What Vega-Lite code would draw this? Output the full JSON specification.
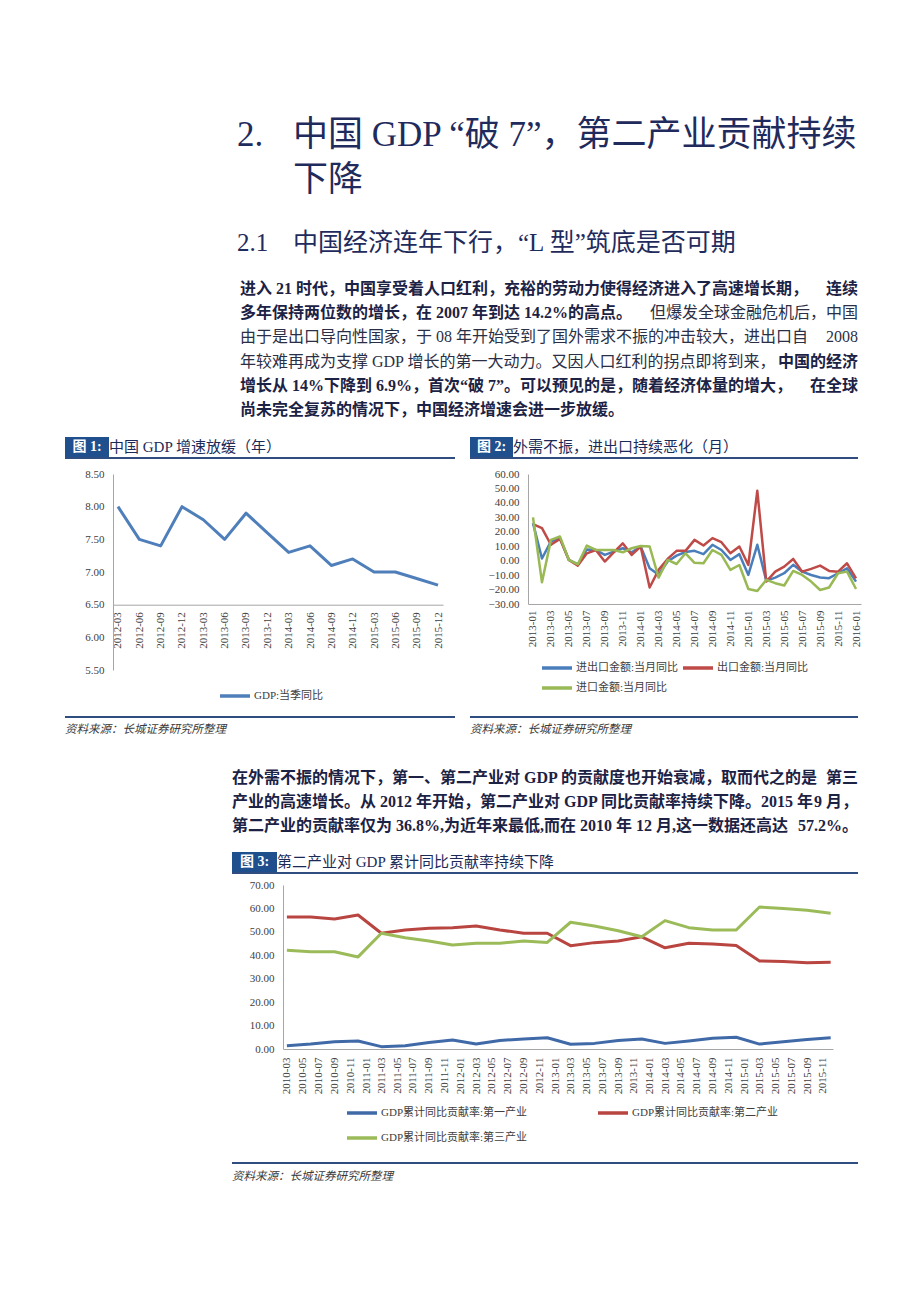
{
  "$schema": "https://vega.github.io/schema/vega-lite/v6.json",
  "background": "#ffffff",
  "padding": {"left": 65, "top": 112, "right": 0, "bottom": 0},
  "bounds": "flush",
  "spacing": 0,
  "resolve": {"scale": {"color": "independent"}, "legend": {"color": "independent"}},
  "datasets": {"none": [], "src": [{"t": "资料来源：长城证券研究所整理"}]},
  "vconcat": [
    {"hconcat": [
      {"width": 172, "height": 90, "data": {"name": "none"}, "mark": "text"},
      {"width": 56, "height": 90, "data": {"values": [{"line": 1, "text": "2."}, {"line": 2, "text": ""}]},
       "mark": {"type": "text", "align": "left", "baseline": "middle", "fontSize": 35, "color": "#1f2b5c"},
       "encoding": {"x": {"value": 0}, "y": {"field": "line", "type": "ordinal", "axis": null, "scale": {"type": "band", "paddingInner": 0, "paddingOuter": 0}}, "text": {"field": "text"}}},
      {"width": 570, "height": 90, "data": {"values": [{"line": 1, "text": "中国 GDP “破 7”，第二产业贡献持续"}, {"line": 2, "text": "下降"}]},
       "mark": {"type": "text", "align": "left", "baseline": "middle", "fontSize": 35, "color": "#1f2b5c"},
       "encoding": {"x": {"value": 0}, "y": {"field": "line", "type": "ordinal", "axis": null, "scale": {"type": "band", "paddingInner": 0, "paddingOuter": 0}}, "text": {"field": "text"}}}
    ], "bounds": "flush", "spacing": 0},
    {"width": 1, "height": 90, "data": {"name": "none"}, "mark": "text"},

    {"hconcat": [
      {"width": 172, "height": 75, "data": {"name": "none"}, "mark": "text"},
      {"width": 56, "height": 75, "data": {"values": [{"line": 1, "text": "2.1"}]},
       "mark": {"type": "text", "align": "left", "baseline": "middle", "fontSize": 25, "color": "#1f2b5c"},
       "encoding": {"x": {"value": 0}, "y": {"field": "line", "type": "ordinal", "axis": null, "bandPosition": 0.55, "scale": {"type": "band", "paddingInner": 0, "paddingOuter": 0}}, "text": {"field": "text"}}},
      {"width": 570, "height": 75, "data": {"values": [{"line": 1, "text": "中国经济连年下行，“L 型”筑底是否可期"}]},
       "mark": {"type": "text", "align": "left", "baseline": "middle", "fontSize": 25, "color": "#1f2b5c"},
       "encoding": {"x": {"value": 0}, "y": {"field": "line", "type": "ordinal", "axis": null, "bandPosition": 0.55, "scale": {"type": "band", "paddingInner": 0, "paddingOuter": 0}}, "text": {"field": "text"}}}
    ], "bounds": "flush", "spacing": 0},
    {"width": 1, "height": 75, "data": {"name": "none"}, "mark": "text"},

    {"hconcat": [
      {"width": 175, "height": 145, "data": {"name": "none"}, "mark": "text"},
      {"width": 618, "height": 145,
       "data": {"values": [
         {"line": 1, "part": "start", "emph": true, "text": "进入 21 时代，中国享受着人口红利，充裕的劳动力使得经济进入了高速增长期，"},
         {"line": 1, "part": "end", "emph": true, "text": "连续"},
         {"line": 2, "part": "start", "emph": true, "text": "多年保持两位数的增长，在 2007 年到达 14.2%的高点。"},
         {"line": 2, "part": "end", "emph": false, "text": "但爆发全球金融危机后，中国"},
         {"line": 3, "part": "start", "emph": false, "text": "由于是出口导向性国家，于 08 年开始受到了国外需求不振的冲击较大，进出口自"},
         {"line": 3, "part": "end", "emph": false, "text": "2008"},
         {"line": 4, "part": "start", "emph": false, "text": "年较难再成为支撑 GDP 增长的第一大动力。又因人口红利的拐点即将到来，"},
         {"line": 4, "part": "end", "emph": true, "text": "中国的经济"},
         {"line": 5, "part": "start", "emph": true, "text": "增长从 14%下降到 6.9%，首次“破 7”。可以预见的是，随着经济体量的增大，"},
         {"line": 5, "part": "end", "emph": true, "text": "在全球"},
         {"line": 6, "part": "start", "emph": true, "text": "尚未完全复苏的情况下，中国经济增速会进一步放缓。"}
       ]},
       "encoding": {"y": {"field": "line", "type": "ordinal", "axis": null, "scale": {"type": "band", "domain": [1, 2, 3, 4, 5, 6], "paddingInner": 0, "paddingOuter": 0}}, "text": {"field": "text"}},
       "layer": [
         {"transform": [{"filter": "datum.part == 'start' && datum.emph"}], "mark": {"type": "text", "align": "left", "baseline": "middle", "fontSize": 16, "fontWeight": "bold", "color": "#1c2244"}, "encoding": {"x": {"value": 0}}},
         {"transform": [{"filter": "datum.part == 'start' && !datum.emph"}], "mark": {"type": "text", "align": "left", "baseline": "middle", "fontSize": 16, "fontWeight": "normal", "color": "#2b2f45"}, "encoding": {"x": {"value": 0}}},
         {"transform": [{"filter": "datum.part == 'end' && datum.emph"}], "mark": {"type": "text", "align": "right", "baseline": "middle", "fontSize": 16, "fontWeight": "bold", "color": "#1c2244"}, "encoding": {"x": {"value": "width"}}},
         {"transform": [{"filter": "datum.part == 'end' && !datum.emph"}], "mark": {"type": "text", "align": "right", "baseline": "middle", "fontSize": 16, "fontWeight": "normal", "color": "#2b2f45"}, "encoding": {"x": {"value": "width"}}}
       ]}
    ], "bounds": "flush", "spacing": 0},
    {"width": 1, "height": 160, "data": {"name": "none"}, "mark": "text"},

    {"hconcat": [
      {"width": 44, "height": 20, "view": {"fill": "#1f4f8d"}, "data": {"values": [{"t": "图 1:"}]},
       "mark": {"type": "text", "fontSize": 14, "fontWeight": "bold", "color": "#ffffff"}, "encoding": {"text": {"field": "t"}}},
      {"width": 361, "height": 20, "data": {"values": [{"t": "中国 GDP 增速放缓（年）"}]},
       "mark": {"type": "text", "align": "left", "fontSize": 15, "color": "#1c2a57"}, "encoding": {"x": {"value": 0}, "text": {"field": "t"}}},
      {"width": 43, "height": 20, "view": {"fill": "#1f4f8d"}, "data": {"values": [{"t": "图 2:"}]},
       "mark": {"type": "text", "fontSize": 14, "fontWeight": "bold", "color": "#ffffff"}, "encoding": {"text": {"field": "t"}}},
      {"width": 345, "height": 20, "data": {"values": [{"t": "外需不振，进出口持续恶化（月）"}]},
       "mark": {"type": "text", "align": "left", "fontSize": 15, "color": "#1c2a57"}, "encoding": {"x": {"value": 0}, "text": {"field": "t"}}}
    ], "bounds": "flush", "spacing": 0},
    {"width": 1, "height": 20, "data": {"name": "none"}, "mark": "text"},

    {"hconcat": [
      {"width": 390, "height": 2, "view": {"fill": "#2f4d80"}, "data": {"name": "none"}, "mark": "text"},
      {"width": 15, "height": 2, "data": {"name": "none"}, "mark": "text"},
      {"width": 388, "height": 2, "view": {"fill": "#2f4d80"}, "data": {"name": "none"}, "mark": "text"}
    ], "bounds": "flush", "spacing": 0},
    {"width": 1, "height": 17, "data": {"name": "none"}, "mark": "text"},

    {"hconcat": [
      {"width": 48, "height": 196, "data": {"name": "none"}, "mark": "text"},
      {"width": 330, "height": 196,
       "data": {"values": [
         {"q": "2012-03", "s": "GDP:当季同比", "v": 8.0},
         {"q": "2012-06", "s": "GDP:当季同比", "v": 7.5},
         {"q": "2012-09", "s": "GDP:当季同比", "v": 7.4},
         {"q": "2012-12", "s": "GDP:当季同比", "v": 8.0},
         {"q": "2013-03", "s": "GDP:当季同比", "v": 7.8},
         {"q": "2013-06", "s": "GDP:当季同比", "v": 7.5},
         {"q": "2013-09", "s": "GDP:当季同比", "v": 7.9},
         {"q": "2013-12", "s": "GDP:当季同比", "v": 7.6},
         {"q": "2014-03", "s": "GDP:当季同比", "v": 7.3},
         {"q": "2014-06", "s": "GDP:当季同比", "v": 7.4},
         {"q": "2014-09", "s": "GDP:当季同比", "v": 7.1},
         {"q": "2014-12", "s": "GDP:当季同比", "v": 7.2},
         {"q": "2015-03", "s": "GDP:当季同比", "v": 7.0},
         {"q": "2015-06", "s": "GDP:当季同比", "v": 7.0},
         {"q": "2015-09", "s": "GDP:当季同比", "v": 6.9},
         {"q": "2015-12", "s": "GDP:当季同比", "v": 6.8}
       ]},
       "mark": {"type": "line", "strokeWidth": 3, "strokeJoin": "round"},
       "encoding": {
         "x": {"field": "q", "type": "ordinal", "sort": null, "scale": {"type": "point", "padding": 0.234}, "axis": {"title": null, "offset": -65.3}},
         "y": {"field": "v", "type": "quantitative", "scale": {"domain": [5.5, 8.5], "zero": false, "nice": false}, "axis": {"title": null, "values": [5.5, 6, 6.5, 7, 7.5, 8, 8.5], "format": ".2f"}},
         "color": {"field": "s", "type": "nominal", "scale": {"domain": ["GDP:当季同比"], "range": ["#4f7fba"]}, "legend": {"title": null, "legendX": 105, "legendY": 215}}
       }},
      {"width": 85, "height": 10, "data": {"name": "none"}, "mark": "text"},
      {"width": 333, "height": 130,
       "data": {"values": [
         {"m": "2013-01", "进出口金额:当月同比": 26.0, "出口金额:当月同比": 25.3, "进口金额:当月同比": 30.0},
         {"m": "2013-02", "进出口金额:当月同比": 1.5, "出口金额:当月同比": 22.5, "进口金额:当月同比": -15.0},
         {"m": "2013-03", "进出口金额:当月同比": 13.3, "出口金额:当月同比": 11.0, "进口金额:当月同比": 14.4},
         {"m": "2013-04", "进出口金额:当月同比": 15.6, "出口金额:当月同比": 15.1, "进口金额:当月同比": 16.7},
         {"m": "2013-05", "进出口金额:当月同比": 0.5, "出口金额:当月同比": 0.5, "进口金额:当月同比": 0.5},
         {"m": "2013-06", "进出口金额:当月同比": -2.5, "出口金额:当月同比": -3.4, "进口金额:当月同比": -2.5},
         {"m": "2013-07", "进出口金额:当月同比": 7.8, "出口金额:当月同比": 5.1, "进口金额:当月同比": 10.4},
         {"m": "2013-08", "进出口金额:当月同比": 7.4, "出口金额:当月同比": 7.4, "进口金额:当月同比": 7.4},
         {"m": "2013-09", "进出口金额:当月同比": 4.0, "出口金额:当月同比": -0.6, "进口金额:当月同比": 7.4},
         {"m": "2013-10", "进出口金额:当月同比": 6.3, "出口金额:当月同比": 5.8, "进口金额:当月同比": 7.4},
         {"m": "2013-11", "进出口金额:当月同比": 8.6, "出口金额:当月同比": 12.0, "进口金额:当月同比": 5.8},
         {"m": "2013-12", "进出口金额:当月同比": 5.8, "出口金额:当月同比": 4.0, "进口金额:当月同比": 8.6},
         {"m": "2014-01", "进出口金额:当月同比": 9.8, "出口金额:当月同比": 9.8, "进口金额:当月同比": 10.2},
         {"m": "2014-02", "进出口金额:当月同比": -5.2, "出口金额:当月同比": -18.6, "进口金额:当月同比": 9.8},
         {"m": "2014-03", "进出口金额:当月同比": -9.8, "出口金额:当月同比": -6.4, "进口金额:当月同比": -11.7},
         {"m": "2014-04", "进出口金额:当月同比": -0.6, "出口金额:当月同比": 1.2, "进口金额:当月同比": 0.5},
         {"m": "2014-05", "进出口金额:当月同比": 3.5, "出口金额:当月同比": 6.8, "进口金额:当月同比": -2.3},
         {"m": "2014-06", "进出口金额:当月同比": 6.0, "出口金额:当月同比": 6.8, "进口金额:当月同比": 5.1},
         {"m": "2014-07", "进出口金额:当月同比": 6.8, "出口金额:当月同比": 14.4, "进口金额:当月同比": -1.5},
         {"m": "2014-08", "进出口金额:当月同比": 4.5, "出口金额:当月同比": 10.5, "进口金额:当月同比": -1.8},
         {"m": "2014-09", "进出口金额:当月同比": 11.0, "出口金额:当月同比": 15.6, "进口金额:当月同比": 7.4},
         {"m": "2014-10", "进出口金额:当月同比": 7.4, "出口金额:当月同比": 12.8, "进口金额:当月同比": 4.0},
         {"m": "2014-11", "进出口金额:当月同比": 0.5, "出口金额:当月同比": 5.1, "进口金额:当月同比": -6.4},
         {"m": "2014-12", "进出口金额:当月同比": 4.5, "出口金额:当月同比": 9.8, "进口金额:当月同比": -3.0},
         {"m": "2015-01", "进出口金额:当月同比": -9.9, "出口金额:当月同比": -3.0, "进口金额:当月同比": -19.6},
         {"m": "2015-02", "进出口金额:当月同比": 11.0, "出口金额:当月同比": 48.4, "进口金额:当月同比": -21.0},
         {"m": "2015-03", "进出口金额:当月同比": -14.0, "出口金额:当月同比": -14.5, "进口金额:当月同比": -13.3},
         {"m": "2015-04", "进出口金额:当月同比": -11.7, "出口金额:当月同比": -7.6, "进口金额:当月同比": -15.6},
         {"m": "2015-05", "进出口金额:当月同比": -8.7, "出口金额:当月同比": -4.1, "进口金额:当月同比": -17.2},
         {"m": "2015-06", "进出口金额:当月同比": -2.9, "出口金额:当月同比": 1.2, "进口金额:当月同比": -7.1},
         {"m": "2015-07", "进出口金额:当月同比": -7.6, "出口金额:当月同比": -7.6, "进口金额:当月同比": -9.9},
         {"m": "2015-08", "进出口金额:当月同比": -9.9, "出口金额:当月同比": -5.7, "进口金额:当月同比": -14.5},
         {"m": "2015-09", "进出口金额:当月同比": -11.7, "出口金额:当月同比": -3.4, "进口金额:当月同比": -20.3},
         {"m": "2015-10", "进出口金额:当月同比": -12.1, "出口金额:当月同比": -7.1, "进口金额:当月同比": -18.6},
         {"m": "2015-11", "进出口金额:当月同比": -8.7, "出口金额:当月同比": -7.6, "进口金额:当月同比": -8.7},
         {"m": "2015-12", "进出口金额:当月同比": -5.3, "出口金额:当月同比": -1.8, "进口金额:当月同比": -7.6},
         {"m": "2016-01", "进出口金额:当月同比": -14.5, "出口金额:当月同比": -12.2, "进口金额:当月同比": -19.6}
       ]},
       "transform": [{"fold": ["进出口金额:当月同比", "出口金额:当月同比", "进口金额:当月同比"], "as": ["s", "v"]}],
       "mark": {"type": "line", "strokeWidth": 2.5, "strokeJoin": "round"},
       "encoding": {
         "x": {"field": "m", "type": "ordinal", "sort": null, "scale": {"type": "point", "padding": 0.557},
               "axis": {"title": null, "labelPadding": 6, "values": ["2013-01", "2013-03", "2013-05", "2013-07", "2013-09", "2013-11", "2014-01", "2014-03", "2014-05", "2014-07", "2014-09", "2014-11", "2015-01", "2015-03", "2015-05", "2015-07", "2015-09", "2015-11", "2016-01"]}},
         "y": {"field": "v", "type": "quantitative", "scale": {"domain": [-30, 60], "zero": false, "nice": false}, "axis": {"title": null, "values": [-30, -20, -10, 0, 10, 20, 30, 40, 50, 60], "format": ".2f"}},
         "color": {"field": "s", "type": "nominal", "sort": null, "scale": {"domain": ["进出口金额:当月同比", "进口金额:当月同比", "出口金额:当月同比"], "range": ["#4a7ebb", "#98b954", "#be4b48"]},
                   "legend": {"title": null, "columns": 2, "columnPadding": 2, "rowPadding": 6, "legendX": 12, "legendY": 187}}
       }}
    ], "bounds": "flush", "spacing": 0, "resolve": {"scale": {"color": "independent"}, "legend": {"color": "independent"}}},
    {"width": 1, "height": 242, "data": {"name": "none"}, "mark": "text"},

    {"hconcat": [
      {"width": 390, "height": 2, "view": {"fill": "#2f4d80"}, "data": {"name": "none"}, "mark": "text"},
      {"width": 15, "height": 2, "data": {"name": "none"}, "mark": "text"},
      {"width": 388, "height": 2, "view": {"fill": "#2f4d80"}, "data": {"name": "none"}, "mark": "text"}
    ], "bounds": "flush", "spacing": 0},
    {"width": 1, "height": 2, "data": {"name": "none"}, "mark": "text"},

    {"hconcat": [
      {"width": 390, "height": 24, "data": {"name": "src"},
       "mark": {"type": "text", "align": "left", "fontSize": 11.5, "fontStyle": "italic", "color": "#3a3a3a"}, "encoding": {"x": {"value": 0}, "text": {"field": "t"}}},
      {"width": 15, "height": 24, "data": {"name": "none"}, "mark": "text"},
      {"width": 388, "height": 24, "data": {"name": "src"},
       "mark": {"type": "text", "align": "left", "fontSize": 11.5, "fontStyle": "italic", "color": "#3a3a3a"}, "encoding": {"x": {"value": 0}, "text": {"field": "t"}}}
    ], "bounds": "flush", "spacing": 0},
    {"width": 1, "height": 48, "data": {"name": "none"}, "mark": "text"},

    {"hconcat": [
      {"width": 167, "height": 72, "data": {"name": "none"}, "mark": "text"},
      {"width": 626, "height": 72,
       "data": {"values": [
         {"line": 1, "part": "start", "text": "在外需不振的情况下，第一、第二产业对 GDP 的贡献度也开始衰减，取而代之的是"},
         {"line": 1, "part": "end", "text": "第三"},
         {"line": 2, "part": "start", "text": "产业的高速增长。从 2012 年开始，第二产业对 GDP 同比贡献率持续下降。2015 年"},
         {"line": 2, "part": "end", "text": "9 月，"},
         {"line": 3, "part": "start", "text": "第二产业的贡献率仅为 36.8%,为近年来最低,而在 2010 年 12 月,这一数据还高达"},
         {"line": 3, "part": "end", "text": "57.2%。"}
       ]},
       "encoding": {"y": {"field": "line", "type": "ordinal", "axis": null, "scale": {"type": "band", "domain": [1, 2, 3], "paddingInner": 0, "paddingOuter": 0}}, "text": {"field": "text"}},
       "layer": [
         {"transform": [{"filter": "datum.part == 'start'"}], "mark": {"type": "text", "align": "left", "baseline": "middle", "fontSize": 16, "fontWeight": "bold", "color": "#1c2244"}, "encoding": {"x": {"value": 0}}},
         {"transform": [{"filter": "datum.part == 'end'"}], "mark": {"type": "text", "align": "right", "baseline": "middle", "fontSize": 16, "fontWeight": "bold", "color": "#1c2244"}, "encoding": {"x": {"value": "width"}}}
       ]}
    ], "bounds": "flush", "spacing": 0},
    {"width": 1, "height": 86, "data": {"name": "none"}, "mark": "text"},

    {"hconcat": [
      {"width": 167, "height": 20, "data": {"name": "none"}, "mark": "text"},
      {"width": 45, "height": 20, "view": {"fill": "#1f4f8d"}, "data": {"values": [{"t": "图 3:"}]},
       "mark": {"type": "text", "fontSize": 14, "fontWeight": "bold", "color": "#ffffff"}, "encoding": {"text": {"field": "t"}}},
      {"width": 581, "height": 20, "data": {"values": [{"t": "第二产业对 GDP 累计同比贡献率持续下降"}]},
       "mark": {"type": "text", "align": "left", "fontSize": 15, "color": "#1c2a57"}, "encoding": {"x": {"value": 0}, "text": {"field": "t"}}}
    ], "bounds": "flush", "spacing": 0},
    {"width": 1, "height": 20, "data": {"name": "none"}, "mark": "text"},

    {"hconcat": [
      {"width": 167, "height": 2, "data": {"name": "none"}, "mark": "text"},
      {"width": 626, "height": 2, "view": {"fill": "#2f4d80"}, "data": {"name": "none"}, "mark": "text"}
    ], "bounds": "flush", "spacing": 0},
    {"width": 1, "height": 13, "data": {"name": "none"}, "mark": "text"},

    {"hconcat": [
      {"width": 218, "height": 164, "data": {"name": "none"}, "mark": "text"},
      {"width": 550, "height": 164,
       "data": {"values": [
         {"d": "2010-03-01", "GDP累计同比贡献率:第一产业": 1.4, "GDP累计同比贡献率:第二产业": 56.3, "GDP累计同比贡献率:第三产业": 42.2},
         {"d": "2010-06-01", "GDP累计同比贡献率:第一产业": 2.1, "GDP累计同比贡献率:第二产业": 56.3, "GDP累计同比贡献率:第三产业": 41.5},
         {"d": "2010-09-01", "GDP累计同比贡献率:第一产业": 3.1, "GDP累计同比贡献率:第二产业": 55.5, "GDP累计同比贡献率:第三产业": 41.5},
         {"d": "2010-12-01", "GDP累计同比贡献率:第一产业": 3.4, "GDP累计同比贡献率:第二产业": 57.2, "GDP累计同比贡献率:第三产业": 39.3},
         {"d": "2011-03-01", "GDP累计同比贡献率:第一产业": 1.0, "GDP累计同比贡献率:第二产业": 49.4, "GDP累计同比贡献率:第三产业": 49.4},
         {"d": "2011-06-01", "GDP累计同比贡献率:第一产业": 1.4, "GDP累计同比贡献率:第二产业": 50.8, "GDP累计同比贡献率:第三产业": 47.5},
         {"d": "2011-09-01", "GDP累计同比贡献率:第一产业": 2.8, "GDP累计同比贡献率:第二产业": 51.5, "GDP累计同比贡献率:第三产业": 46.1},
         {"d": "2011-12-01", "GDP累计同比贡献率:第一产业": 3.8, "GDP累计同比贡献率:第二产业": 51.8, "GDP累计同比贡献率:第三产业": 44.4},
         {"d": "2012-03-01", "GDP累计同比贡献率:第一产业": 2.1, "GDP累计同比贡献率:第二产业": 52.5, "GDP累计同比贡献率:第三产业": 45.1},
         {"d": "2012-06-01", "GDP累计同比贡献率:第一产业": 3.6, "GDP累计同比贡献率:第二产业": 50.8, "GDP累计同比贡献率:第三产业": 45.1},
         {"d": "2012-09-01", "GDP累计同比贡献率:第一产业": 4.3, "GDP累计同比贡献率:第二产业": 49.4, "GDP累计同比贡献率:第三产业": 46.1},
         {"d": "2012-12-01", "GDP累计同比贡献率:第一产业": 4.8, "GDP累计同比贡献率:第二产业": 49.4, "GDP累计同比贡献率:第三产业": 45.5},
         {"d": "2013-03-01", "GDP累计同比贡献率:第一产业": 2.0, "GDP累计同比贡献率:第二产业": 44.1, "GDP累计同比贡献率:第三产业": 54.1},
         {"d": "2013-06-01", "GDP累计同比贡献率:第一产业": 2.4, "GDP累计同比贡献率:第二产业": 45.4, "GDP累计同比贡献率:第三产业": 52.5},
         {"d": "2013-09-01", "GDP累计同比贡献率:第一产业": 3.6, "GDP累计同比贡献率:第二产业": 46.1, "GDP累计同比贡献率:第三产业": 50.5},
         {"d": "2013-12-01", "GDP累计同比贡献率:第一产业": 4.3, "GDP累计同比贡献率:第二产业": 47.9, "GDP累计同比贡献率:第三产业": 47.9},
         {"d": "2014-03-01", "GDP累计同比贡献率:第一产业": 2.4, "GDP累计同比贡献率:第二产业": 43.2, "GDP累计同比贡献率:第三产业": 54.8},
         {"d": "2014-06-01", "GDP累计同比贡献率:第一产业": 3.4, "GDP累计同比贡献率:第二产业": 45.1, "GDP累计同比贡献率:第三产业": 51.8},
         {"d": "2014-09-01", "GDP累计同比贡献率:第一产业": 4.6, "GDP累计同比贡献率:第二产业": 44.8, "GDP累计同比贡献率:第三产业": 50.8},
         {"d": "2014-12-01", "GDP累计同比贡献率:第一产业": 5.0, "GDP累计同比贡献率:第二产业": 44.2, "GDP累计同比贡献率:第三产业": 50.8},
         {"d": "2015-03-01", "GDP累计同比贡献率:第一产业": 2.1, "GDP累计同比贡献率:第二产业": 37.6, "GDP累计同比贡献率:第三产业": 60.6},
         {"d": "2015-06-01", "GDP累计同比贡献率:第一产业": 3.1, "GDP累计同比贡献率:第二产业": 37.3, "GDP累计同比贡献率:第三产业": 60.0},
         {"d": "2015-09-01", "GDP累计同比贡献率:第一产业": 4.1, "GDP累计同比贡献率:第二产业": 36.8, "GDP累计同比贡献率:第三产业": 59.2},
         {"d": "2015-12-01", "GDP累计同比贡献率:第一产业": 4.8, "GDP累计同比贡献率:第二产业": 37.0, "GDP累计同比贡献率:第三产业": 57.9}
       ], "format": {"parse": {"d": "utc:'%Y-%m-%d'"}}},
       "transform": [{"fold": ["GDP累计同比贡献率:第一产业", "GDP累计同比贡献率:第二产业", "GDP累计同比贡献率:第三产业"], "as": ["s", "v"]}],
       "mark": {"type": "line", "strokeWidth": 3, "strokeJoin": "round"},
       "encoding": {
         "x": {"field": "d", "type": "temporal",
               "scale": {"type": "utc", "nice": false, "domain": [{"year": 2010, "month": 2, "date": 14, "utc": true}, {"year": 2015, "month": 12, "date": 10, "utc": true}]},
               "axis": {"title": null, "format": "%Y-%m", "tickCount": {"interval": "month", "step": 2}, "labelPadding": 8}},
         "y": {"field": "v", "type": "quantitative", "scale": {"domain": [0, 70], "nice": false}, "axis": {"title": null, "values": [0, 10, 20, 30, 40, 50, 60, 70], "format": ".2f"}},
         "color": {"field": "s", "type": "nominal", "sort": null, "scale": {"domain": ["GDP累计同比贡献率:第一产业", "GDP累计同比贡献率:第三产业", "GDP累计同比贡献率:第二产业"], "range": ["#4069a8", "#9bbb59", "#b94540"]},
                   "legend": {"title": null, "columns": 2, "columnPadding": 68, "rowPadding": 11, "legendX": 62, "legendY": 221}}
       }}
    ], "bounds": "flush", "spacing": 0, "resolve": {"scale": {"color": "independent"}, "legend": {"color": "independent"}}},
    {"width": 1, "height": 277, "data": {"name": "none"}, "mark": "text"},

    {"hconcat": [
      {"width": 167, "height": 2, "data": {"name": "none"}, "mark": "text"},
      {"width": 626, "height": 2, "view": {"fill": "#2f4d80"}, "data": {"name": "none"}, "mark": "text"}
    ], "bounds": "flush", "spacing": 0},
    {"width": 1, "height": 2, "data": {"name": "none"}, "mark": "text"},

    {"hconcat": [
      {"width": 167, "height": 26, "data": {"name": "none"}, "mark": "text"},
      {"width": 626, "height": 26, "data": {"name": "src"},
       "mark": {"type": "text", "align": "left", "fontSize": 11.5, "fontStyle": "italic", "color": "#3a3a3a"}, "encoding": {"x": {"value": 0}, "text": {"field": "t"}}}
    ], "bounds": "flush", "spacing": 0},
    {"width": 1, "height": 26, "data": {"name": "none"}, "mark": "text"}
  ],
  "config": {
    "font": "Liberation Serif, Noto Sans CJK SC",
    "view": {"stroke": null},
    "axis": {"grid": false, "ticks": false, "domainColor": "#a6a6a6", "labelFont": "Liberation Serif", "labelFontSize": 11, "labelColor": "#404040", "labelOverlap": false, "labelFlush": false},
    "axisX": {"labelAngle": -90, "labelPadding": 7},
    "axisY": {"labelPadding": 9},
    "legend": {"orient": "none", "symbolType": "stroke", "symbolSize": 900, "symbolStrokeWidth": 3.5, "clipHeight": 14, "labelFont": "Liberation Serif, Noto Sans CJK SC", "labelFontSize": 11, "labelColor": "#404040", "labelOffset": 2, "padding": 0, "labelLimit": 400}
  }
}
